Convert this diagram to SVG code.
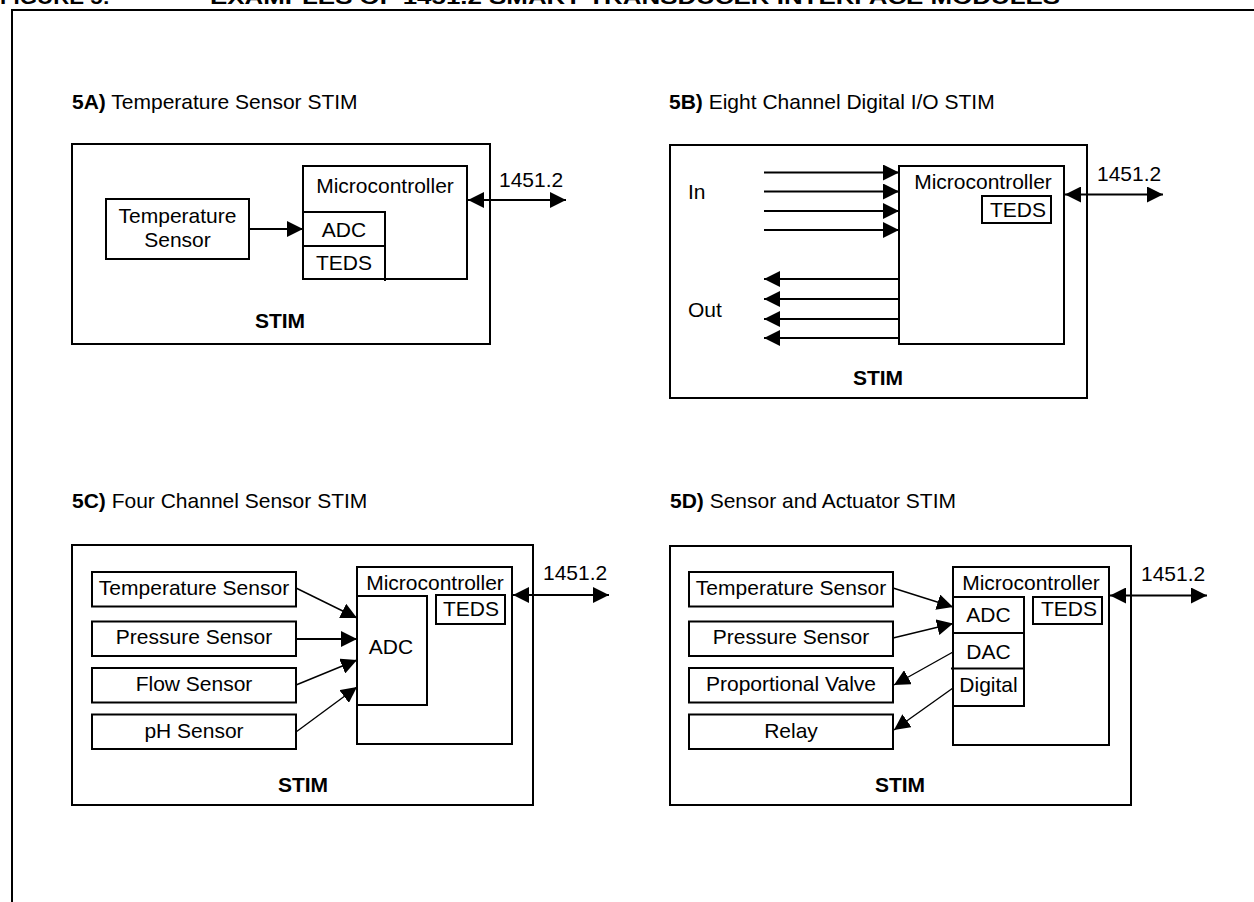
<svg xmlns="http://www.w3.org/2000/svg" width="1254" height="902" viewBox="0 0 1254 902">
<style>
text{font-family:"Liberation Sans",Arial,sans-serif;font-size:21px;fill:#000}
.b{font-weight:bold}
.c{text-anchor:middle}
.box{fill:none;stroke:#000;stroke-width:2}
.ln{fill:none;stroke:#000;stroke-width:2}
.th{fill:none;stroke:#000;stroke-width:1.4}
.a{marker-end:url(#ah)}
.d{marker-start:url(#ah);marker-end:url(#ah)}
</style>
<defs>
<marker id="ah" markerUnits="userSpaceOnUse" markerWidth="16" markerHeight="16" refX="16" refY="8" orient="auto-start-reverse">
<path d="M0,0 L16,8 L0,16 Z" fill="#000"/>
</marker>
</defs>
<rect width="1254" height="902" fill="#fff"/>
<g id="title">
<text class="b" x="0" y="4" font-size="25" textLength="110" lengthAdjust="spacingAndGlyphs">FIGURE 5:</text>
<text class="b" x="210" y="4" font-size="25" textLength="850" lengthAdjust="spacingAndGlyphs">EXAMPLES OF 1451.2 SMART TRANSDUCER INTERFACE MODULES</text>
</g>
<rect id="frame" x="12" y="10" width="1260" height="900" class="box"/>

<!-- 5A -->
<g id="panel-5A">
<text x="72" y="109"><tspan class="b">5A)</tspan> Temperature Sensor STIM</text>
<rect x="72" y="144" width="418" height="200" class="box"/>
<text class="b c" x="280" y="328">STIM</text>
</g>
<g id="a-temp-sensor">
<rect x="106" y="199" width="143" height="60" class="box"/>
<text class="c" x="177.5" y="223">Temperature</text>
<text class="c" x="177.5" y="247">Sensor</text>
</g>
<g id="a-micro">
<rect x="303" y="166" width="164" height="113" class="box"/>
<text class="c" x="385" y="193">Microcontroller</text>
</g>
<g id="a-adc-teds">
<path d="M303,212 H385 V281 M303,246 H385" class="box"/>
<text class="c" x="344" y="237">ADC</text>
<text class="c" x="344" y="270">TEDS</text>
</g>
<text id="a-bus" x="499" y="187">1451.2</text>

<!-- 5B -->
<g id="panel-5B">
<text x="669" y="109"><tspan class="b">5B)</tspan> Eight Channel Digital I/O STIM</text>
<rect x="670" y="145" width="417" height="253" class="box"/>
<text class="b c" x="878" y="385">STIM</text>
<text x="688" y="199">In</text>
<text x="688" y="317">Out</text>
</g>
<g id="b-micro">
<rect x="899" y="166" width="165" height="178" class="box"/>
<text class="c" x="983" y="189">Microcontroller</text>
</g>
<g id="b-teds">
<rect x="982" y="196" width="69" height="27" class="box"/>
<text class="c" x="1018" y="217">TEDS</text>
</g>
<text id="b-bus" x="1097" y="181">1451.2</text>

<!-- 5C -->
<g id="panel-5C">
<text x="72" y="508"><tspan class="b">5C)</tspan> Four Channel Sensor STIM</text>
<rect x="72" y="545" width="461" height="260" class="box"/>
<text class="b c" x="303" y="792">STIM</text>
</g>
<g id="c-temp"><rect x="92" y="572" width="204" height="34.5" class="box"/><text class="c" x="194" y="595">Temperature Sensor</text></g>
<g id="c-press"><rect x="92" y="621.5" width="204" height="34.5" class="box"/><text class="c" x="194" y="644">Pressure Sensor</text></g>
<g id="c-flow"><rect x="92" y="668" width="204" height="34.5" class="box"/><text class="c" x="194" y="691">Flow Sensor</text></g>
<g id="c-ph"><rect x="92" y="714.5" width="204" height="34.5" class="box"/><text class="c" x="194" y="738">pH Sensor</text></g>
<g id="c-micro">
<rect x="357" y="567" width="155" height="177" class="box"/>
<text class="c" x="435" y="590">Microcontroller</text>
</g>
<g id="c-adc">
<path d="M357,596 H427 V706 M357,705 H427" class="box"/>
<text class="c" x="391" y="654">ADC</text>
</g>
<g id="c-teds">
<rect x="436" y="595" width="69" height="29" class="box"/>
<text class="c" x="471" y="616">TEDS</text>
</g>
<text id="c-bus" x="543" y="580">1451.2</text>

<!-- 5D -->
<g id="panel-5D">
<text x="670" y="508"><tspan class="b">5D)</tspan> Sensor and Actuator STIM</text>
<rect x="670" y="546" width="461" height="259" class="box"/>
<text class="b c" x="900" y="792">STIM</text>
</g>
<g id="d-temp"><rect x="689" y="572" width="204" height="34.5" class="box"/><text class="c" x="791" y="595">Temperature Sensor</text></g>
<g id="d-press"><rect x="689" y="621.5" width="204" height="34.5" class="box"/><text class="c" x="791" y="644">Pressure Sensor</text></g>
<g id="d-valve"><rect x="689" y="668" width="204" height="34.5" class="box"/><text class="c" x="791" y="691">Proportional Valve</text></g>
<g id="d-relay"><rect x="689" y="714.5" width="204" height="34.5" class="box"/><text class="c" x="791" y="738">Relay</text></g>
<g id="d-micro">
<rect x="953" y="567" width="156" height="178" class="box"/>
<text class="c" x="1031" y="590">Microcontroller</text>
</g>
<g id="d-io">
<rect x="953" y="597" width="71" height="109" class="box"/>
<path d="M953,633 H1024 M951,668.5 H1024" class="box"/>
<text class="c" x="988.5" y="622">ADC</text>
<text class="c" x="988.5" y="659">DAC</text>
<text class="c" x="988.5" y="692">Digital</text>
</g>
<g id="d-teds">
<rect x="1033" y="597" width="69" height="27" class="box"/>
<text class="c" x="1069" y="616">TEDS</text>
</g>
<text id="d-bus" x="1141" y="581">1451.2</text>

<g id="connectors">
<!-- 5A -->
<line x1="249" y1="229" x2="303" y2="229" class="ln a"/>
<line x1="468" y1="200" x2="566" y2="200" class="ln d"/>
<!-- 5B -->
<line x1="764" y1="172.5" x2="899" y2="172.5" class="ln a"/>
<line x1="764" y1="191.5" x2="899" y2="191.5" class="ln a"/>
<line x1="764" y1="211" x2="899" y2="211" class="ln a"/>
<line x1="764" y1="230" x2="899" y2="230" class="ln a"/>
<line x1="899" y1="279" x2="764" y2="279" class="ln a"/>
<line x1="899" y1="299" x2="764" y2="299" class="ln a"/>
<line x1="899" y1="319" x2="764" y2="319" class="ln a"/>
<line x1="899" y1="338" x2="764" y2="338" class="ln a"/>
<line x1="1065" y1="194.5" x2="1163" y2="194.5" class="ln d"/>
<!-- 5C -->
<line x1="296" y1="588" x2="357" y2="618" class="th a"/>
<line x1="296" y1="639" x2="357" y2="639" class="ln a"/>
<line x1="296" y1="685" x2="357" y2="660" class="th a"/>
<line x1="296" y1="732" x2="357" y2="687" class="th a"/>
<line x1="513" y1="595" x2="609" y2="595" class="ln d"/>
<!-- 5D -->
<line x1="893" y1="588" x2="953" y2="607" class="th a"/>
<line x1="893" y1="638" x2="953" y2="623.5" class="th a"/>
<line x1="953" y1="652" x2="894" y2="685" class="th a"/>
<line x1="953" y1="688" x2="894" y2="730" class="th a"/>
<line x1="1110" y1="595.5" x2="1207" y2="595.5" class="ln d"/>
</g>
</svg>
